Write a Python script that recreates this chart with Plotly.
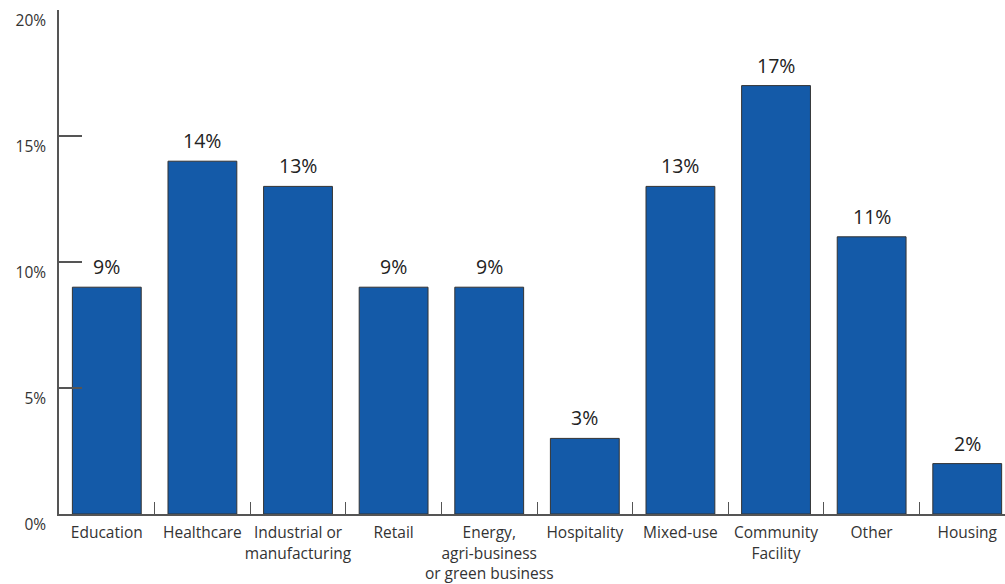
import plotly.graph_objects as go

categories = ["Education", "Healthcare", "Industrial or<br>manufacturing", "Retail",
              "Energy,<br>agri-business<br>or green business", "Hospitality", "Mixed-use",
              "Community<br>Facility", "Other", "Housing"]
values = [9, 14, 13, 9, 9, 3, 13, 17, 11, 2]
labels = [f"{v}%" for v in values]
y_ticks = [0, 5, 10, 15, 20]
y_tick_text = ["0%", "5%", "10%", "15%", "20%"]

FONT = "Open Sans"
x_pos = list(range(len(categories)))
boundaries = [i + 0.5 for i in range(len(categories) - 1)]

fig = go.Figure(go.Bar(
    x=x_pos,
    y=values,
    marker=dict(color="#145AA8", line=dict(color="#333333", width=1)),
    width=0.72,
))

for xi, v, t in zip(x_pos, values, labels):
    fig.add_annotation(x=xi, y=v, text=t, showarrow=False, yanchor="bottom",
                       yshift=5, font=dict(family=FONT, size=19.5, color="#222222"))

fig.update_layout(
    width=1005, height=584,
    margin=dict(l=59, r=0, t=10, b=70),
    plot_bgcolor="white", paper_bgcolor="white",
    showlegend=False,
    font=dict(family=FONT, size=15, color="#333333"),
)
fig.update_xaxes(
    range=[-0.5, 9.395],
    tickmode="array",
    tickvals=x_pos,
    ticktext=categories,
    ticks="",
    minor=dict(tickmode="array", tickvals=boundaries, ticks="inside", ticklen=12,
               tickcolor="#555555", tickwidth=1, showgrid=False),
    showline=True, linecolor="#555555", linewidth=1.5,
    showgrid=False, zeroline=False,
    tickfont=dict(family=FONT, size=15.5, color="#333333"),
    tickangle=0,
    ticklabelstandoff=4,
)
fig.update_yaxes(
    range=[0, 20],
    tickmode="array", tickvals=y_ticks, ticktext=y_tick_text,
    ticks="inside", ticklen=23, tickcolor="#555555", tickwidth=1.5,
    showline=True, linecolor="#555555", linewidth=1.5,
    showgrid=False, zeroline=False,
    tickfont=dict(family=FONT, size=15.5, color="#333333"),
    ticklabelshift=11,
    ticklabelstandoff=8,
)

fig.write_html("out.html")
